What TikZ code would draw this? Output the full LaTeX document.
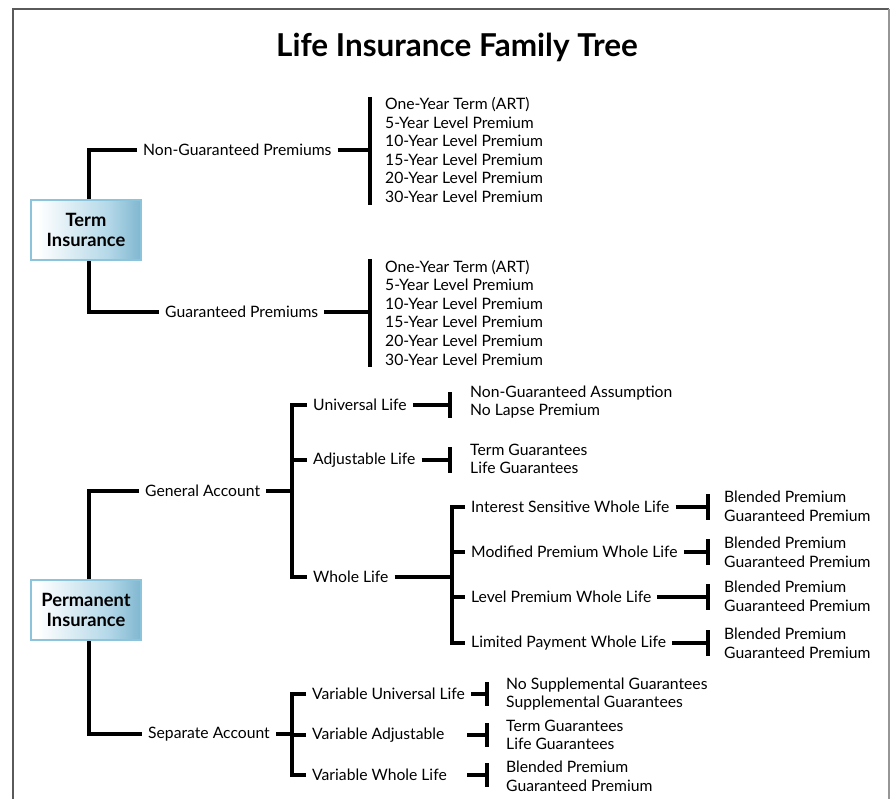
\documentclass[tikz,border=0pt]{standalone}
\usepackage{fontspec}
\setmainfont{Lato}
\usetikzlibrary{calc}
\definecolor{boxblue}{RGB}{40,128,168}
\definecolor{boxmid}{RGB}{180,216,232}
\definecolor{boxedge}{RGB}{140,196,220}
\definecolor{framegray}{RGB}{90,90,90}
\definecolor{frameright}{RGB}{150,150,150}
\pgfdeclarehorizontalshading{boxshade}{100bp}{color(0bp)=(white); color(28bp)=(white); color(60bp)=(boxmid); color(100bp)=(boxblue)}
\begin{document}
\begin{tikzpicture}[x=1pt,y=-1pt,
  ln/.style={line width=3.2pt},
  lbl/.style={anchor=west, inner xsep=6pt, inner ysep=2pt, font=\fontsize{15.7}{18}\selectfont},
  lst/.style={anchor=west, inner sep=0pt, align=left, font=\fontsize{15.7}{18.6}\selectfont},
  catbox/.style={draw=boxedge, line width=1.2pt, shading=boxshade, minimum width=110pt, minimum height=60pt, align=center, inner sep=0pt, font=\bfseries\fontsize{18.3}{19.5}\selectfont},
  bar/.style={ln}]
\useasboundingbox (0,0) rectangle (891,799);
% frame
\draw[framegray, line width=1.8pt] (13,800) -- (13,9) -- (889,9);
\draw[frameright, line width=1.2pt] (889,9) -- (889,800);
% title
\node[font=\bfseries\fontsize{31.5}{34}\selectfont, inner sep=0pt] (title) at (457,47) {Life Insurance Family Tree};

% ---------- Term insurance ----------
\node[lbl] (ngp) at (137,150) {Non-Guaranteed Premiums};
\node[lbl] (gp) at (159,312) {Guaranteed Premiums};
\coordinate (t1) at (89,150);
\coordinate (t2) at (89,312);
\node[lst] (l1) at (385,150) {One-Year Term (ART)\\5-Year Level Premium\\10-Year Level Premium\\15-Year Level Premium\\20-Year Level Premium\\30-Year Level Premium};
\node[lst] (l2) at (385,312.5) {One-Year Term (ART)\\5-Year Level Premium\\10-Year Level Premium\\15-Year Level Premium\\20-Year Level Premium\\30-Year Level Premium};
\coordinate (b1) at (370,150);
\coordinate (b2) at (370,312);
\draw[ln] (ngp.west) -- (t1) -- (t2) -- (gp.west);
\draw[ln] (ngp.east) -- (b1);
\draw[ln] (gp.east) -- (b2);
\draw[bar] ([yshift=53pt]b1) -- ([yshift=-55pt]b1);
\draw[bar] ([yshift=53pt]b2) -- ([yshift=-55pt]b2);
\node[catbox] (term) at (86,230) {Term\\Insurance};

% ---------- Permanent insurance ----------
\coordinate (p1) at (89,491);
\coordinate (p2) at (89,734);
\node[lbl] (ga) at (139,491) {General Account};
\node[lbl] (sa) at (142,734) {Separate Account};
\draw[ln] (ga.west) -- (p1) -- (p2) -- (sa.west);

% general account
\coordinate (g0) at (292,491);
\coordinate (g1) at (292,405);
\coordinate (g2) at (292,460);
\coordinate (g3) at (292,577);
\draw[ln] (ga.east) -- (g0);
\node[lbl] (ul) at (307,405) {Universal Life};
\node[lbl] (al) at (307,460) {Adjustable Life};
\node[lbl] (wl) at (307,577) {Whole Life};
\draw[ln] (ul.west) -- (g1) -- (g3) -- (wl.west);
\draw[ln] (g2) -- (al.west);

\coordinate (bu) at (450,405);
\coordinate (ba) at (450,460);
\draw[ln] (ul.east) -- (bu);
\draw[ln] (al.east) -- (ba);
\draw[bar] ([yshift=13pt]bu) -- ([yshift=-13pt]bu);
\draw[bar] ([yshift=13pt]ba) -- ([yshift=-13pt]ba);
\node[lst] (lu) at (470,402) {Non-Guaranteed Assumption\\No Lapse Premium};
\node[lst] (la) at (470,459) {Term Guarantees\\Life Guarantees};

% whole life
\coordinate (w0) at (452,577);
\coordinate (w1) at (452,507);
\coordinate (w2) at (452,552);
\coordinate (w3) at (452,597);
\coordinate (w4) at (452,643);
\draw[ln] (wl.east) -- (w0);
\node[lbl] (isw) at (465,507) {Interest Sensitive Whole Life};
\node[lbl] (mpw) at (465,552) {Modified Premium Whole Life};
\node[lbl] (lpw) at (465,597) {Level Premium Whole Life};
\node[lbl] (lmw) at (465,643) {Limited Payment Whole Life};
\draw[ln] (isw.west) -- (w1) -- (w4) -- (lmw.west);
\draw[ln] (w2) -- (mpw.west);
\draw[ln] (w3) -- (lpw.west);
\coordinate (c1) at (708,507);
\coordinate (c2) at (708,552);
\coordinate (c3) at (708,597);
\coordinate (c4) at (708,643);
\draw[ln] (isw.east) -- (c1);
\draw[ln] (mpw.east) -- (c2);
\draw[ln] (lpw.east) -- (c3);
\draw[ln] (lmw.east) -- (c4);
\foreach \c in {c1,c2,c3,c4}{\draw[bar] ([yshift=13pt]\c) -- ([yshift=-13pt]\c);}
\node[lst] (m1) at (724,506.5) {Blended Premium\\Guaranteed Premium};
\node[lst] (m2) at (724,552.5) {Blended Premium\\Guaranteed Premium};
\node[lst] (m3) at (724,596.5) {Blended Premium\\Guaranteed Premium};
\node[lst] (m4) at (724,643.5) {Blended Premium\\Guaranteed Premium};

% separate account
\coordinate (s0) at (292,734);
\coordinate (s1) at (292,694);
\coordinate (s2) at (292,735);
\coordinate (s3) at (292,775);
\draw[ln] (sa.east) -- (s0);
\node[lbl] (vul) at (306,694) {Variable Universal Life};
\node[lbl] (va) at (306,735) {Variable Adjustable};
\node[lbl] (vwl) at (306,775) {Variable Whole Life};
\draw[ln] (vul.west) -- (s1) -- (s3) -- (vwl.west);
\draw[ln] (s2) -- (va.west);
\coordinate (v1) at (487,694);
\coordinate (v2) at (487,735);
\coordinate (v3) at (487,775);
\coordinate (va1) at (467,735);
\coordinate (va3) at (467,775);
\draw[ln] (vul.east) -- (v1);
\draw[ln] (va1) -- (v2);
\draw[ln] (va3) -- (v3);
\foreach \c in {v1,v2,v3}{\draw[bar] ([yshift=12pt]\c) -- ([yshift=-12pt]\c);}
\node[lst] (n1) at (506,694) {No Supplemental Guarantees\\Supplemental Guarantees};
\node[lst] (n2) at (506,735) {Term Guarantees\\Life Guarantees};
\node[lst] (n3) at (506,776.5) {Blended Premium\\Guaranteed Premium};

\node[catbox] (perm) at (86,610) {Permanent\\Insurance};
\end{tikzpicture}
\end{document}
